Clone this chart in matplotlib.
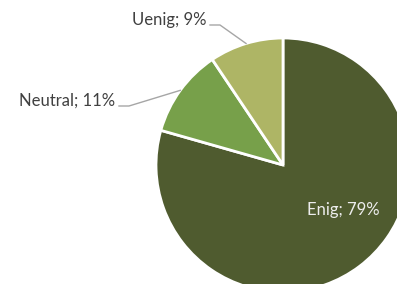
import numpy as np
import matplotlib
matplotlib.use("Agg")
import matplotlib.pyplot as plt

plt.rcParams["font.family"] = ["Lato", "DejaVu Sans"]

# data
labels = ["Enig", "Neutral", "Uenig"]
values = [79.4, 11.2, 9.4]
colors = ["#4F5B2F", "#77A04A", "#AEB565"]

W, H = 397, 284
fig = plt.figure(figsize=(W / 100, H / 100), dpi=100)
ax = fig.add_axes([0, 0, 1, 1])

cx, cy, R = 283, H - 165, 127
wedges, _ = ax.pie(
    values,
    colors=colors,
    startangle=90,
    counterclock=False,
    center=(cx, cy),
    radius=R,
    wedgeprops={"edgecolor": "white", "linewidth": 2},
)
ax.set_xlim(0, W)
ax.set_ylim(0, H)
ax.set_aspect("equal")
ax.axis("off")

total = sum(values)
texts = [f"{l}; {round(v / total * 100)}%" for l, v in zip(labels, values)]

# Enig label inside the slice
ax.text(343, H - 210, texts[0], color="#EDEDED", fontsize=12,
        ha="center", va="center")

# outside labels with leader lines (text right edge position)
outside = {1: (115, H - 101), 2: (206, H - 20)}
for i, (tx, ty) in outside.items():
    w = wedges[i]
    mid = np.deg2rad((w.theta1 + w.theta2) / 2)
    px, py = cx + R * np.cos(mid), cy + R * np.sin(mid)
    ex = tx + 4
    ey = ty - 5
    ax.plot([ex, ex + 10, px], [ey, ey, py], color="#A6A6A6", lw=1)
    ax.text(tx, ty, texts[i], color="#404040", fontsize=12,
            ha="right", va="center")

fig.savefig("out.png", dpi=100)
